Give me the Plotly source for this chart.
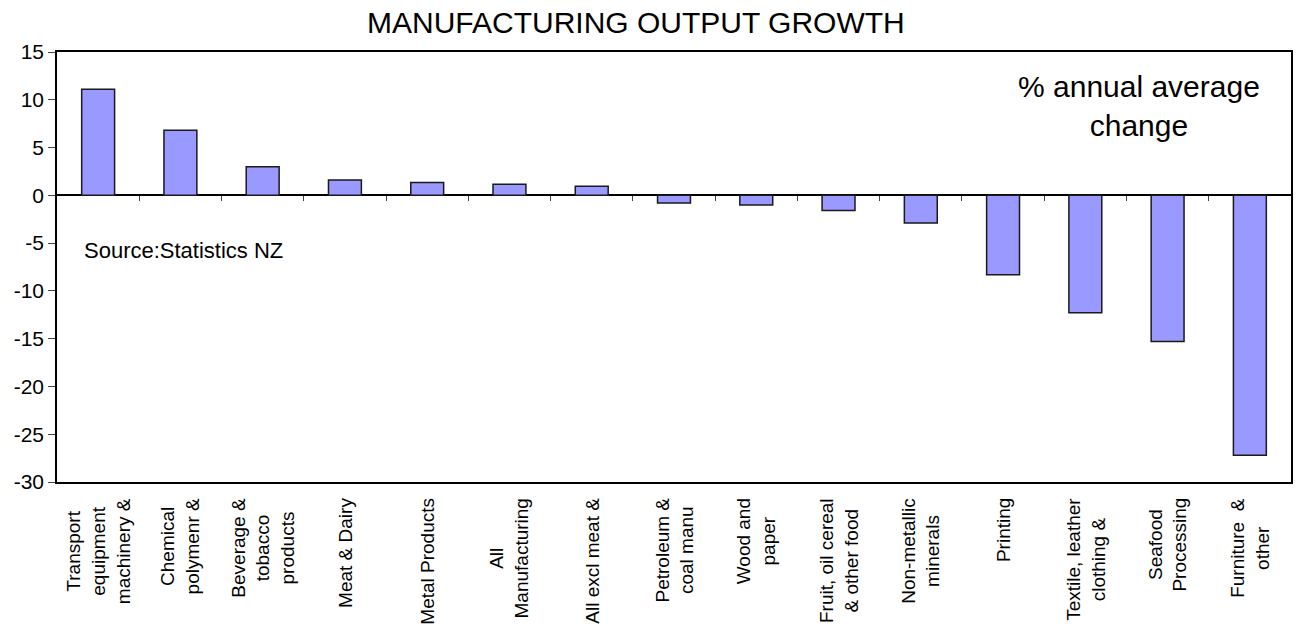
import plotly.graph_objects as go

categories = [
    "Transport<br>equipment<br>machinery &",
    "Chemical<br>polymenr &",
    "Beverage &<br>tobacco<br>products",
    "Meat & Dairy",
    "Metal Products",
    "All<br>Manufacturing",
    "All excl meat &",
    "Petroleum &<br>coal manu",
    "Wood and<br>paper",
    "Fruit, oil cereal<br>& other food",
    "Non-metallic<br>minerals",
    "Printing",
    "Textile, leather<br>clothing &",
    "Seafood<br>Processing",
    "Furniture\u00a0\u00a0&<br>other",
]
values = [11.1, 6.8, 3.0, 1.6, 1.35, 1.15, 0.95, -0.8, -1.0, -1.6, -2.9, -8.3, -12.3, -15.3, -27.2]

y_ticks = list(range(-30, 16, 5))
y_tick_text = [str(v) for v in y_ticks]
FONT = "Arial, Liberation Sans, sans-serif"

fig = go.Figure()
fig.add_trace(go.Bar(
    x=list(range(len(categories))), y=values,
    marker=dict(color="#9999FF", line=dict(color="#1a1a1a", width=1.5)),
    showlegend=False, hoverinfo="y",
))
# invisible helper trace for the category-boundary ticks on the zero line
fig.add_trace(go.Scatter(
    x=list(range(len(categories))), y=values, xaxis="x2",
    mode="markers", marker=dict(opacity=0), showlegend=False, hoverinfo="skip",
))

annotations = []
for i, c in enumerate(categories):
    annotations.append(dict(
        x=i, xref="x", y=0, yref="paper", yshift=-14,
        text=c, textangle=-90, showarrow=False, align="center",
        xanchor="center", yanchor="top",
        font=dict(family=FONT, size=19, color="black"),
    ))
annotations.append(dict(
    x=0.0205, xref="paper", y=-5.75, yref="y", text="Source:Statistics NZ",
    showarrow=False, xanchor="left", yanchor="middle",
    font=dict(family=FONT, size=22, color="black"),
))
annotations.append(dict(
    x=0.877, xref="paper", y=0.963, yref="paper",
    text="% annual average<br>change", showarrow=False, align="center",
    xanchor="center", yanchor="top",
    font=dict(family=FONT, size=30, color="black"),
))

n = len(categories)
fig.update_layout(
    width=1303, height=626,
    margin=dict(l=57, r=10, t=52, b=144),
    paper_bgcolor="white", plot_bgcolor="white",
    bargap=0.6,
    title=dict(text="MANUFACTURING OUTPUT GROWTH", x=0.488, xref="container", xanchor="center",
               y=1 - 22 / 626, yref="container", yanchor="middle",
               font=dict(family=FONT, size=30, color="black")),
    xaxis=dict(range=[-0.5, n - 0.5], showticklabels=False, ticks="", showgrid=False,
               showline=True, mirror=True, linecolor="black", linewidth=1.5, zeroline=False),
    xaxis2=dict(overlaying="x", anchor="free", position=30 / 45, range=[-0.5, n - 0.5],
                tickvals=[i + 0.5 for i in range(n - 1)], ticks="outside", ticklen=5,
                tickwidth=1, tickcolor="#444", showticklabels=False, showgrid=False,
                showline=False, zeroline=False),
    yaxis=dict(range=[-30, 15], tickvals=y_ticks, ticktext=y_tick_text, ticks="outside",
               ticklen=7, tickwidth=1, tickcolor="#444", showgrid=False, showline=True,
               mirror=True, linecolor="black", linewidth=1.5, zeroline=True,
               zerolinecolor="black", zerolinewidth=1.5,
               tickfont=dict(family=FONT, size=21, color="black")),
    annotations=annotations,
)
fig.write_html("out.html")
